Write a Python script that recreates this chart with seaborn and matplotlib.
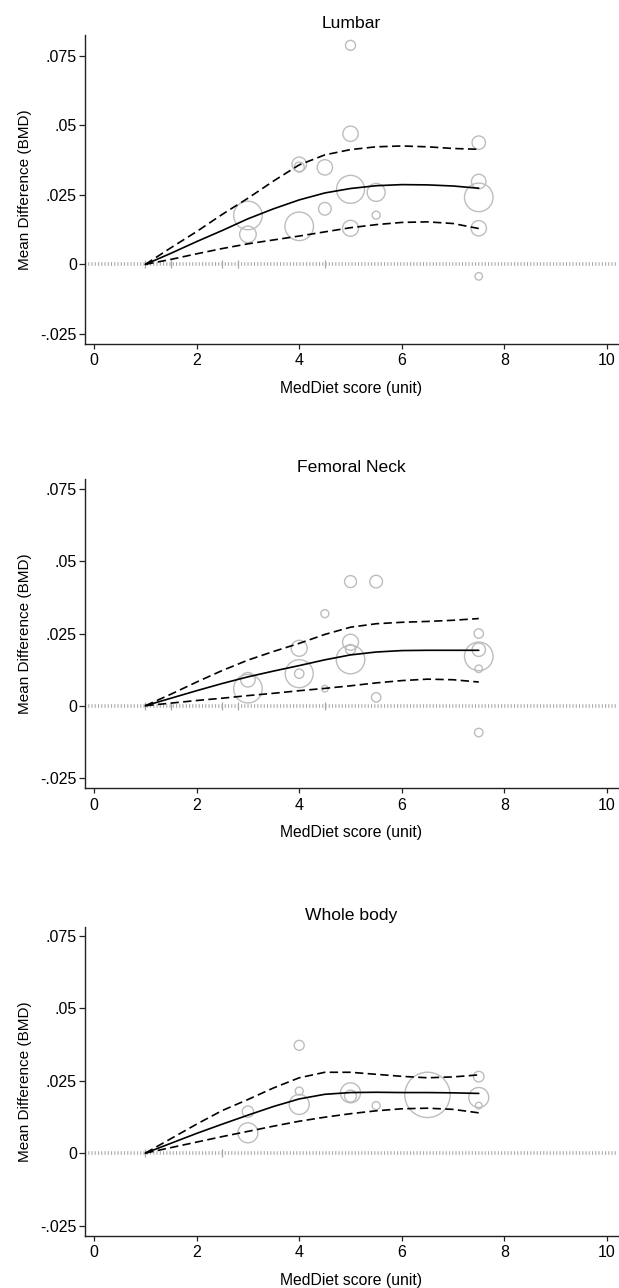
import numpy as np
import pandas as pd
import matplotlib
matplotlib.use("Agg")
import matplotlib.pyplot as plt
import seaborn as sns

# study points: MedDiet score, mean difference, relative weight (bubble area)
lumbar_x = [5, 5, 7.5, 4, 4, 4.5, 7.5, 5, 5.5, 7.5, 3, 4.5, 5.5, 4, 5, 7.5, 3, 7.5]
lumbar_y = [0.0788, 0.0470, 0.0438, 0.0360, 0.0350, 0.0349, 0.0298, 0.0270, 0.0259,
            0.0241, 0.0176, 0.0200, 0.0177, 0.0137, 0.0130, 0.0130, 0.0108, -0.0043]
lumbar_w = [25, 59, 45, 53, 25, 59, 53, 196, 81, 204, 204, 40, 16, 204, 64, 59, 69, 14]

neck_x = [5, 5.5, 4.5, 7.5, 4, 5, 5, 5, 7.5, 7.5, 7.5, 4, 4, 3, 3, 4.5, 5.5, 7.5]
neck_y = [0.0430, 0.0430, 0.0319, 0.0250, 0.0199, 0.0220, 0.0195, 0.0160, 0.0194,
          0.0171, 0.0128, 0.0111, 0.0111, 0.0090, 0.0059, 0.0059, 0.0029, -0.0093]
neck_w = [36, 40, 16, 22, 64, 64, 25, 204, 45, 204, 14, 196, 22, 53, 204, 11, 22, 18]

whole_x = [4, 7.5, 4, 4, 5, 5, 6.5, 7.5, 7.5, 5.5, 3, 3]
whole_y = [0.0372, 0.0264, 0.0214, 0.0168, 0.0208, 0.0197, 0.0201, 0.0192, 0.0164,
           0.0164, 0.0143, 0.0070]
whole_w = [25, 28, 16, 100, 100, 36, 515, 100, 11, 16, 32, 100]

# fitted spline and 95% CI
fit_x = [1, 1.5, 2, 2.5, 3, 3.5, 4, 4.5, 5, 5.5, 6, 6.5, 7, 7.5]

lumbar_fit = [0, 0.0040, 0.0082, 0.0122, 0.0164, 0.0200, 0.0232, 0.0257, 0.0273,
              0.0283, 0.0287, 0.0286, 0.0282, 0.0274]
lumbar_hi = [0, 0.0060, 0.0118, 0.0180, 0.0238, 0.0300, 0.0358, 0.0394, 0.0413,
             0.0423, 0.0426, 0.0423, 0.0417, 0.0414]
lumbar_lo = [0, 0.0018, 0.0038, 0.0057, 0.0074, 0.0088, 0.0102, 0.0117, 0.0132,
             0.0143, 0.0151, 0.0153, 0.0147, 0.0129]

neck_fit = [0, 0.0026, 0.0052, 0.0077, 0.0100, 0.0120, 0.0139, 0.0159, 0.0176,
            0.0186, 0.0191, 0.0192, 0.0192, 0.0192]
neck_hi = [0, 0.0040, 0.0082, 0.0122, 0.0158, 0.0188, 0.0216, 0.0247, 0.0272,
           0.0284, 0.0289, 0.0292, 0.0296, 0.0302]
neck_lo = [0, 0.0009, 0.0018, 0.0026, 0.0035, 0.0043, 0.0052, 0.0060, 0.0069,
           0.0079, 0.0087, 0.0092, 0.0090, 0.0082]

whole_fit = [0, 0.0034, 0.0068, 0.0100, 0.0131, 0.0161, 0.0187, 0.0203, 0.0209,
             0.0210, 0.0209, 0.0209, 0.0208, 0.0206]
whole_hi = [0, 0.0050, 0.0100, 0.0147, 0.0185, 0.0225, 0.0260, 0.0279, 0.0279,
            0.0272, 0.0265, 0.0260, 0.0263, 0.0270]
whole_lo = [0, 0.0019, 0.0038, 0.0057, 0.0075, 0.0093, 0.0110, 0.0124, 0.0136,
            0.0146, 0.0153, 0.0155, 0.0151, 0.0139]

# small marks sitting on the reference line
lumbar_marks = [1, 1.5, 2.5, 2.8, 4.5]
neck_marks = [1, 1.5, 2.5, 2.8, 4.5]
whole_marks = [1, 2.5]

titles = ["Lumbar", "Femoral Neck", "Whole body"]
y_ticks = [-0.025, 0, 0.025, 0.05, 0.075]
y_ticklabels = ["-.025", "0", ".025", ".05", ".075"]
x_ticks = [0, 2, 4, 6, 8, 10]

panels = [
    (lumbar_x, lumbar_y, lumbar_w, lumbar_fit, lumbar_hi, lumbar_lo, lumbar_marks, 0.0826),
    (neck_x, neck_y, neck_w, neck_fit, neck_hi, neck_lo, neck_marks, 0.0785),
    (whole_x, whole_y, whole_w, whole_fit, whole_hi, whole_lo, whole_marks, 0.0781),
]

sns.set_style("white")
plt.rcParams["font.family"] = ["Liberation Sans", "DejaVu Sans"]
plt.rcParams["text.color"] = "black"
plt.rcParams["axes.labelcolor"] = "black"
plt.rcParams["xtick.color"] = "black"
plt.rcParams["ytick.color"] = "black"

fig = plt.figure(figsize=(6.19, 12.88), dpi=100)
bottoms = [0.733, 0.388, 0.0404]
dash = (0, (5, 2.6))

for i, (px, py, pw, fit, hi, lo, marks, ytop) in enumerate(panels):
    ax = fig.add_axes([0.137, bottoms[i], 0.861, 0.240])
    pts = pd.DataFrame({"x": px, "y": py, "w": pw})
    sns.scatterplot(data=pts, x="x", y="y", size="w", sizes=(0, 1076),
                    size_norm=(0, 520), facecolors="none", edgecolors="#bdbdbd",
                    linewidth=1.0, legend=False, ax=ax, zorder=2)
    ax.axhline(0, color="#a8a8a8", lw=2.6, ls=(0, (0.3, 0.6)), zorder=1)
    ax.plot(marks, np.zeros(len(marks)), ls="none", marker="|", ms=6,
            mew=0.9, color="#a8a8a8", zorder=1)
    sns.lineplot(x=fit_x, y=fit, color="black", lw=1.2, ax=ax, zorder=3)
    sns.lineplot(x=fit_x, y=hi, color="black", lw=1.2, ax=ax, zorder=3)
    ax.lines[-1].set_linestyle(dash)
    sns.lineplot(x=fit_x, y=lo, color="black", lw=1.2, ax=ax, zorder=3)
    ax.lines[-1].set_linestyle(dash)

    ax.set_xlim(-0.18, 10.21)
    ax.set_ylim(-0.0286, ytop)
    ax.set_xticks(x_ticks)
    ax.set_xticklabels([str(t) for t in x_ticks])
    ax.set_yticks(y_ticks)
    ax.set_yticklabels(y_ticklabels)
    sns.despine(ax=ax)
    for side in ["left", "bottom"]:
        ax.spines[side].set_color("#222222")
        ax.spines[side].set_linewidth(1.0)
    ax.tick_params(axis="x", direction="out", length=3.5, width=0.9,
                   color="#222222", labelsize=11.5, pad=3.2, bottom=True)
    ax.tick_params(axis="y", direction="out", length=4.5, width=0.9,
                   color="#222222", labelsize=11.5, pad=1.2, left=True)
    ax.set_xlabel("MedDiet score (unit)", fontsize=11.3, labelpad=9)
    ax.set_ylabel("Mean Difference (BMD)", fontsize=11.0, labelpad=6)
    ax.set_title(titles[i], fontsize=12.6, pad=5)

fig.savefig("out.png", dpi=100)
